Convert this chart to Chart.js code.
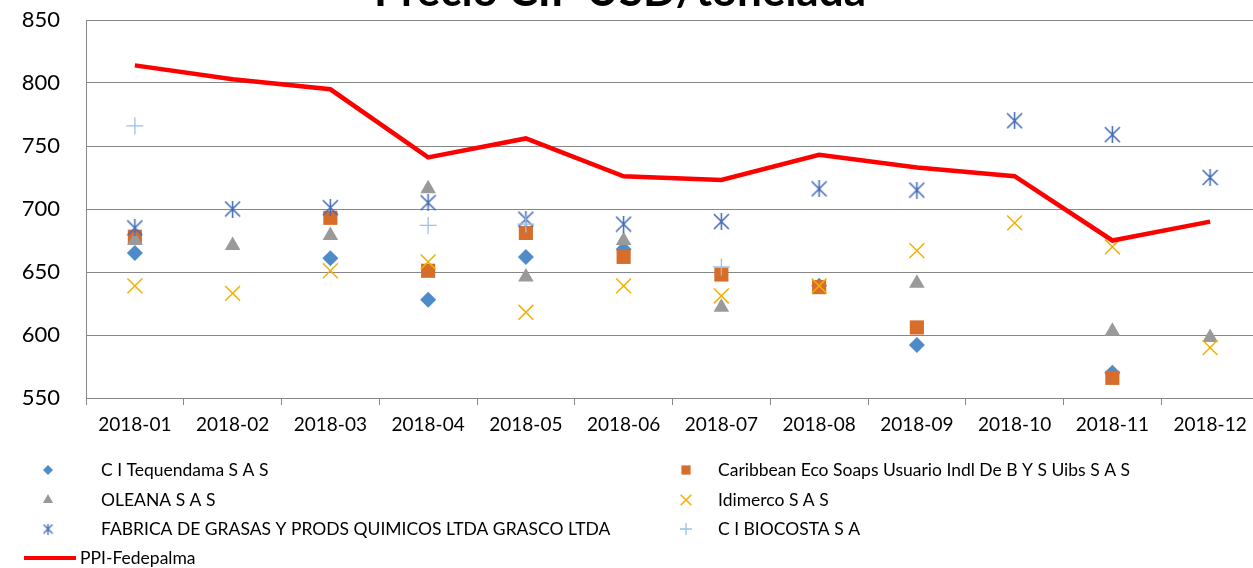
<!DOCTYPE html>
<html>
<head>
<meta charset="utf-8">
<script src="https://cdn.jsdelivr.net/npm/chart.js@4.4.1/dist/chart.umd.min.js"></script>
<style>
    html, body { margin: 0; padding: 0; background: #fff; overflow: hidden; }
    #wrap { width: 1253px; height: 568px; overflow: hidden; }
</style>
</head>
<body>
<div id="wrap"><canvas id="precio" width="1259" height="568"></canvas></div>
<script>
const months = ['2018-01', '2018-02', '2018-03', '2018-04', '2018-05', '2018-06',
    '2018-07', '2018-08', '2018-09', '2018-10', '2018-11', '2018-12'];
const yTicks = [550, 600, 650, 700, 750, 800, 850];

const seriesNames = [
    'C I Tequendama S A S',
    'Caribbean Eco Soaps Usuario Indl De B Y S Uibs S A S',
    'OLEANA S A S',
    'Idimerco S A S',
    'FABRICA DE GRASAS Y PRODS QUIMICOS LTDA GRASCO LTDA',
    'C I BIOCOSTA S A',
    'PPI-Fedepalma',
];

const tequendama = [665, null, 661, 628, 662, 668, null, 639, 592, null, 570, null];
const caribbean = [678, null, 693, 651, 681, 662, 648, 638, 606, null, 566, null];
const oleana = [675, 671, 679, 716, 646, 675, 622, null, 641, null, 603, 598];
const idimerco = [639, 633, 651, 658, 618, 639, 631, 639, 667, 689, 670, 590];
const grasco = [685, 700, 701, 705, 692, 688, 690, 716, 715, 770, 759, 725];
const biocosta = [766, null, null, 687, 688, null, 654, null, null, null, null, null];
const ppi = [814, 803, 795, 741, 756, 726, 723, 743, 733, 726, 675, 690];

const FONT = 'Lato, "Noto Sans", sans-serif';
const GRID = '#878787';

// excel-like asterisk: an X with a vertical bar
function asterisk(size, color, lw) {
    const c = document.createElement('canvas');
    c.width = size;
    c.height = size;
    const g = c.getContext('2d');
    g.strokeStyle = color;
    g.lineWidth = lw;
    const m = 1, e = size - 1;
    g.beginPath();
    g.moveTo(m, m); g.lineTo(e, e);
    g.moveTo(e, m); g.lineTo(m, e);
    g.moveTo(size / 2, 0); g.lineTo(size / 2, size);
    g.stroke();
    return c;
}

const markers = [
    { style: 'rectRot', color: '#4F8BC9', radius: 8, legendRadius: 5, fill: true },
    { style: 'rect', color: '#D76D2B', radius: 10, legendRadius: 6.5, fill: true },
    { style: 'triangle', color: '#9A9A9A', radius: 9, legendRadius: 6, fill: true },
    { style: 'crossRot', color: '#F2B000', radius: 10.5, legendRadius: 7.5, fill: false, width: 1.5 },
    { style: asterisk(17, '#4068B8', 1.5), color: '#4068B8', legendStyle: asterisk(11, '#4068B8', 1.3) },
    { style: 'cross', color: '#9DBFE6', radius: 8.5, legendRadius: 6, fill: false, width: 1.3 },
];
const values = [tequendama, caribbean, oleana, idimerco, grasco, biocosta];

const datasets = values.map((data, i) => {
    const m = markers[i];
    return {
        label: seriesNames[i],
        data: data,
        showLine: false,
        pointStyle: m.style,
        pointRadius: m.radius || 8,
        pointBackgroundColor: m.fill ? m.color : 'transparent',
        pointBorderColor: m.color,
        pointBorderWidth: m.fill ? 0 : m.width,
        order: 10 - i,
    };
});
datasets.push({
    label: seriesNames[6],
    data: ppi,
    borderColor: '#FF0000',
    borderWidth: 4.5,
    pointRadius: 0,
    tension: 0,
    order: 0,
});

const extras = {
    id: 'extras',
    afterDraw(chart) {
        const ctx = chart.ctx;
        ctx.save();
        // title, cut off at the top like the original
        ctx.font = 'bold 44px ' + FONT;
        ctx.fillStyle = '#000';
        ctx.textAlign = 'center';
        ctx.textBaseline = 'alphabetic';
        ctx.fillText('Precio CIF USD/tonelada', 620, 6);

        // legend in two columns
        ctx.font = '17.5px ' + FONT;
        ctx.textAlign = 'left';
        ctx.textBaseline = 'middle';
        const rows = [470, 500, 529, 558];
        markers.forEach((m, i) => {
            const col = i % 2;
            const y = rows[Math.floor(i / 2)];
            const mx = col ? 686 : 48;
            const tx = col ? 718 : 101;
            ctx.fillStyle = m.fill ? m.color : 'transparent';
            ctx.strokeStyle = m.color;
            ctx.lineWidth = m.width || 1;
            Chart.helpers.drawPoint(ctx, {
                pointStyle: m.legendStyle || m.style,
                radius: m.legendRadius || 5,
                rotation: 0,
                borderWidth: m.fill ? 0 : (m.width || 1),
            }, mx, y);
            ctx.fillStyle = '#000';
            ctx.fillText(seriesNames[i], tx, y);
        });
        ctx.strokeStyle = '#FF0000';
        ctx.lineWidth = 4;
        ctx.beginPath();
        ctx.moveTo(24, rows[3]);
        ctx.lineTo(76, rows[3]);
        ctx.stroke();
        ctx.fillStyle = '#000';
        ctx.fillText(seriesNames[6], 80, rows[3]);
        ctx.restore();
    },
};

new Chart(document.getElementById('precio'), {
    type: 'line',
    data: { labels: months, datasets: datasets },
    options: {
        responsive: false,
        animation: false,
        devicePixelRatio: 1,
        layout: { autoPadding: false, padding: { top: 20, right: 0, bottom: 130, left: 0 } },
        plugins: {
            legend: { display: false },
            tooltip: { enabled: false },
            title: { display: false },
        },
        scales: {
            x: {
                offset: true,
                grid: {
                    offset: true,
                    drawOnChartArea: false,
                    drawTicks: true,
                    tickLength: 7,
                    color: GRID,
                },
                border: { color: GRID },
                ticks: {
                    font: { family: FONT, size: 19 },
                    color: '#000',
                    padding: 8,
                    maxRotation: 0,
                    autoSkip: false,
                },
                afterFit: (s) => { s.height = 40; },
            },
            y: {
                min: yTicks[0],
                max: yTicks[yTicks.length - 1],
                afterBuildTicks: (s) => { s.ticks = yTicks.map((v) => ({ value: v })); },
                // invisible tick marks keep the labels away from the axis
                grid: { color: GRID, drawTicks: true, tickLength: 26, tickColor: 'rgba(0,0,0,0)' },
                border: { color: GRID },
                ticks: {
                    font: { family: FONT, size: 22 },
                    color: '#000',
                    padding: 0,
                },
                afterFit: (s) => { s.width = 86; },
            },
        },
    },
    plugins: [extras],
});
</script>
</body>
</html>
